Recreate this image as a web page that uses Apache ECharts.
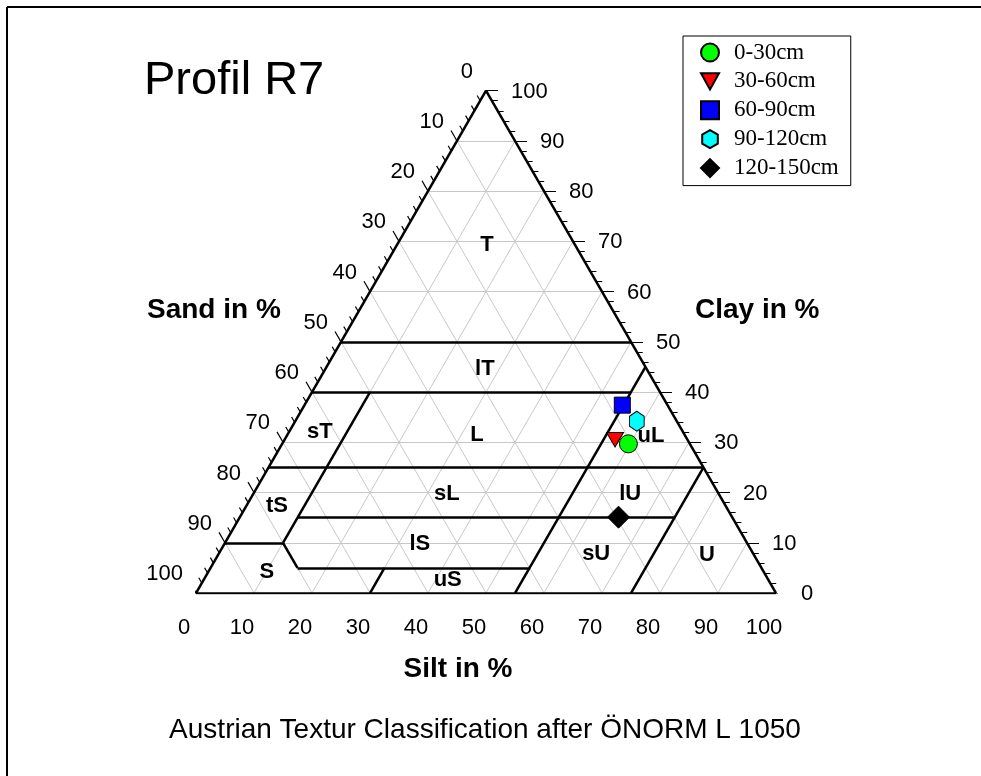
<!DOCTYPE html>
<html lang="en">
<head>
<meta charset="UTF-8">
<title>Profil R7</title>
<script src="https://cdn.jsdelivr.net/npm/echarts@6/dist/echarts.min.js"></script>
<style>
    * { margin: 0; padding: 0; }
    body { background: #fff; }
    #chart { width: 981px; height: 776px; }
</style>
</head>
<body>
<div id="chart"></div>
<script>
// samples of profile R7, percent of fine soil
var depths = ['0-30cm', '30-60cm', '60-90cm', '90-120cm', '120-150cm'];
var sand = [10.6, 12.5, 7.8, 6.9, 19.6];
var silt = [59.7, 57.0, 54.8, 58.9, 65.3];
var clay = [29.7, 30.5, 37.4, 34.2, 15.1];

var tickVals = [0, 10, 20, 30, 40, 50, 60, 70, 80, 90, 100];

// class borders of the OENORM L 1050 triangle, [silt, clay] start -> end
var borderFrom = [[0, 50], [0, 40], [55, 45], [0, 25], [10, 40], [10, 15], [75, 25], [0, 10], [10, 10], [15, 5], [30, 5]];
var borderTo = [[50, 50], [55, 40], [55, 0], [75, 25], [10, 10], [75, 15], [75, 0], [10, 10], [15, 5], [55, 5], [30, 0]];

var classNames = ['T', 'lT', 'sT', 'L', 'uL', 'tS', 'sL', 'lU', 'lS', 'sU', 'U', 'S', 'uS'];
var classSilt = [15.5, 27.5, 5.3, 32.7, 62.8, 5.3, 33.4, 65.0, 33.7, 65.1, 84.3, 10.1, 42.1];
var classClay = [69.3, 44.6, 32.1, 31.5, 31.3, 17.3, 19.7, 19.7, 9.8, 7.8, 7.6, 4.2, 2.6];

var H = Math.sqrt(3) / 2;
function tern(s, c) { return [s + c / 2, c * H]; }

var gridSegs = [];
tickVals.forEach(function (k) {
    if (k === 0 || k === 100) return;
    gridSegs.push({coords: [tern(0, k), tern(100 - k, k)]});
    gridSegs.push({coords: [tern(k, 0), tern(k, 100 - k)]});
    gridSegs.push({coords: [tern(100 - k, 0), tern(0, 100 - k)]});
});

var outline = [
    {coords: [tern(0, 0), tern(100, 0)]},
    {coords: [tern(100, 0), tern(0, 100)]},
    {coords: [tern(0, 100), tern(0, 0)]}
];

var borderSegs = borderFrom.map(function (a, i) {
    return {coords: [tern(a[0], a[1]), tern(borderTo[i][0], borderTo[i][1])]};
});

var PX = 5.8;
var tickSegs = [];
for (var v = 0; v <= 100; v += 2) {
    var len = (v % 10 === 0 ? 12 : 6) / PX;
    var b = tern(v, 0);
    tickSegs.push({coords: [b, [b[0] - len * 0.5, b[1] - len * H]]});
    var l = tern(0, 100 - v);
    tickSegs.push({coords: [l, [l[0] - len * 0.5, l[1] + len * H]]});
    var r = tern(100 - v, v);
    tickSegs.push({coords: [r, [r[0] + len, r[1]]]});
}

var fontSans = '"Liberation Sans", Arial, sans-serif';
var fontSerif = '"Liberation Serif", "Times New Roman", serif';

function tickLabels(pos, align, offset) {
    return {
        type: 'scatter', symbolSize: 1, silent: true, z: 5,
        itemStyle: {color: 'rgba(0,0,0,0)'},
        data: tickVals.map(function (t) { var p = pos(t); return [p[0], p[1], t]; }),
        label: {
            show: true, position: 'inside', align: align, verticalAlign: 'middle', offset: offset,
            formatter: function (p) { return String(p.value[2]); },
            color: '#000', opacity: 1, textBorderWidth: 0,
            fontSize: 22, fontFamily: fontSans
        }
    };
}

var markers = [
    {symbol: 'circle', size: 18, color: '#00ff00'},
    {symbol: 'path://M0,0L20,0L10,18Z', size: [17, 16], color: '#ff0000'},
    {symbol: 'rect', size: 16, color: '#0000ff'},
    {symbol: 'path://M10,0L18.66,5L18.66,15L10,20L1.34,15L1.34,5Z', size: [17, 20], color: '#00ffff'},
    {symbol: 'diamond', size: 22, color: '#000000'}
];

var sampleSeries = depths.map(function (d, i) {
    return {
        name: d, type: 'scatter', z: 10,
        symbol: markers[i].symbol, symbolSize: markers[i].size, symbolKeepAspect: true,
        itemStyle: {color: markers[i].color, borderColor: '#000', borderWidth: 1, opacity: 1},
        data: [tern(silt[i], clay[i])]
    };
});

var chart = echarts.init(document.getElementById('chart'));
var option = {
    animation: false,
    backgroundColor: '#fff',
    grid: {left: 196, top: 90.7, width: 580, height: 502.3},
    xAxis: {type: 'value', min: 0, max: 100, show: false},
    yAxis: {type: 'value', min: 0, max: 100 * H, show: false},
    legend: {
        data: depths,
        orient: 'vertical',
        left: 683, top: 36,
        padding: [5, 12, 6, 17],
        itemWidth: 18, itemHeight: 18, itemGap: 5.9,
        backgroundColor: '#fff',
        borderColor: '#000', borderWidth: 1,
        textStyle: {fontFamily: fontSerif, fontSize: 23, color: '#000', padding: [0, 0, 0, 10]}
    },
    graphic: [
        {type: 'line', shape: {x1: 7, y1: 7, x2: 981, y2: 7}, style: {stroke: '#000', lineWidth: 2}},
        {type: 'line', shape: {x1: 7, y1: 7, x2: 7, y2: 776}, style: {stroke: '#000', lineWidth: 2}},
        {type: 'text', left: 144, top: 58, style: {text: 'Profil R7', font: '47px ' + fontSans, fill: '#000'}},
        {type: 'text', left: 147, top: 296, style: {text: 'Sand in %', font: 'bold 28px ' + fontSans, fill: '#000'}},
        {type: 'text', left: 695, top: 296, style: {text: 'Clay in %', font: 'bold 28px ' + fontSans, fill: '#000'}},
        {type: 'text', x: 458, y: 669, style: {text: 'Silt in %', font: 'bold 28px ' + fontSans, fill: '#000', align: 'center', verticalAlign: 'middle'}},
        {type: 'text', x: 485, y: 730, style: {text: 'Austrian Textur Classification after \u00d6NORM L 1050', font: '28px ' + fontSans, fill: '#000', align: 'center', verticalAlign: 'middle'}}
    ],
    series: [
        {type: 'lines', coordinateSystem: 'cartesian2d', silent: true, z: 1, data: gridSegs,
            lineStyle: {color: '#c8c8c8', width: 1, opacity: 1}},
        {type: 'lines', coordinateSystem: 'cartesian2d', silent: true, z: 3, data: borderSegs,
            lineStyle: {color: '#000', width: 2.5, opacity: 1}},
        {type: 'lines', coordinateSystem: 'cartesian2d', silent: true, z: 3, data: outline,
            lineStyle: {color: '#000', width: 2.5, opacity: 1}},
        {type: 'lines', coordinateSystem: 'cartesian2d', silent: true, z: 3, data: tickSegs,
            lineStyle: {color: '#000', width: 1.2, opacity: 1}},
        tickLabels(function (t) { return tern(t, 0); }, 'center', [-12, 35]),
        tickLabels(function (t) { return tern(0, 100 - t); }, 'right', [-13, -19]),
        tickLabels(function (t) { return tern(100 - t, t); }, 'left', [25, 1]),
        {
            type: 'scatter', symbolSize: 1, silent: true, z: 6,
            itemStyle: {color: 'rgba(0,0,0,0)'},
            data: classNames.map(function (n, i) {
                var p = tern(classSilt[i], classClay[i]);
                return {name: n, value: p};
            }),
            label: {
                show: true, position: 'inside', formatter: '{b}',
                color: '#000', opacity: 1, textBorderWidth: 0,
                fontSize: 22, fontWeight: 'bold', fontFamily: fontSans
            }
        }
    ].concat(sampleSeries)
};
chart.setOption(option);
</script>
</body>
</html>
